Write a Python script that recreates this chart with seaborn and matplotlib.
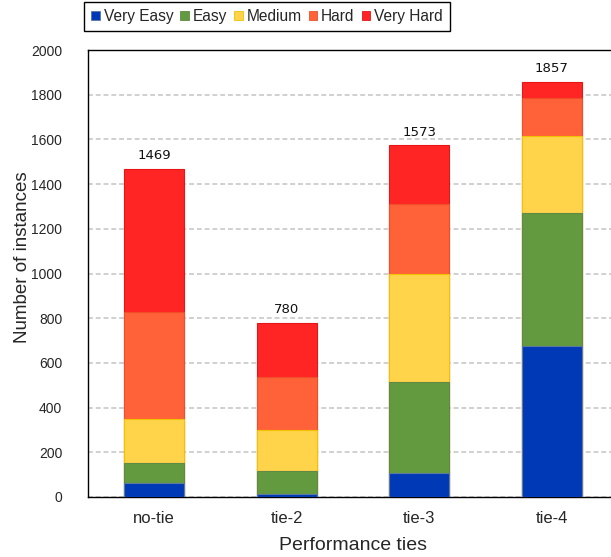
import numpy as np
import pandas as pd
import seaborn as sns
import matplotlib
matplotlib.use("Agg")
import matplotlib.pyplot as plt
from matplotlib.patches import Patch

# Instance counts per difficulty level for each performance-tie group
groups = ["no-tie", "tie-2", "tie-3", "tie-4"]
levels = ["Very Easy", "Easy", "Medium", "Hard", "Very Hard"]
very_easy = [61, 15, 106, 676]
easy = [92, 101, 410, 596]
medium = [195, 184, 483, 343]
hard = [481, 238, 311, 170]
very_hard = [640, 242, 263, 72]
totals = [1469, 780, 1573, 1857]

colors = ["#0039B5", "#639A3F", "#FFD34A", "#FF6138", "#FF2525"]
edges = ["#5B7A9E", "#5E8A45", "#F2C200", "#F04E28", "#E81515"]

series = [very_easy, easy, medium, hard, very_hard]
df = pd.DataFrame({"group": groups})
for name, vals in zip(levels, series):
    df[name] = vals
cum = df[levels].cumsum(axis=1)

sns.set_theme(style="white")
plt.rcParams["font.family"] = ["Liberation Sans", "DejaVu Sans"]

fig = plt.figure(figsize=(6.11, 5.57), dpi=100)
ax = fig.add_axes([88 / 611, 1 - 497 / 557, 530 / 611, 447 / 557])

# Stack by drawing cumulative heights from the top level down
for i in range(len(levels) - 1, -1, -1):
    sns.barplot(x=df["group"], y=cum[levels[i]], order=groups, color=colors[i],
                width=0.45, edgecolor=edges[i], linewidth=0.8, saturation=1,
                ax=ax, zorder=3)

for x, t in enumerate(totals):
    ax.text(x, t + 30, f"{t}", ha="center", va="bottom", fontsize=9.5,
            family="DejaVu Sans", color="#111111")

ax.set_xlim(-0.5, 3.5)
ax.set_ylim(0, 2000)
ax.set_yticks(np.arange(0, 2001, 200))
ax.yaxis.grid(True, linestyle=(0, (2.5, 1.5)), color="#d0d0d0", linewidth=1.4, zorder=0)
ax.set_axisbelow(True)
ax.tick_params(axis="y", labelsize=10, length=0, pad=18.5)
ax.tick_params(axis="x", labelsize=12, length=0, pad=10)
for side in ["left", "bottom", "top", "right"]:
    ax.spines[side].set_visible(True)
    ax.spines[side].set_color("black")
    ax.spines[side].set_linewidth(1.0)

ax.set_xlabel("Performance ties", fontsize=14, labelpad=8)
ax.set_ylabel("Number of instances", fontsize=13.5)
ax.yaxis.set_label_coords(-0.107, 0.537)

handles = [Patch(facecolor=c, edgecolor=e, linewidth=0.6) for c, e in zip(colors, edges)]
fig.legend(handles, levels, loc="upper center", bbox_to_anchor=(267 / 611, 1 - 2 / 557),
           ncol=5, fontsize=11.2, frameon=True, fancybox=False, edgecolor="black",
           handlelength=0.55, handleheight=0.55, handletextpad=0.25, columnspacing=0.45,
           borderpad=0.45, borderaxespad=0, framealpha=1)

fig.savefig("out.png", dpi=100)
